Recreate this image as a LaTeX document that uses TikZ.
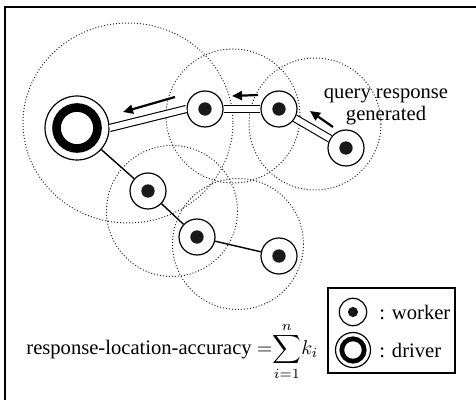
\documentclass[tikz,border=0pt]{standalone}
\usepackage{fontspec}
\setmainfont{Liberation Serif}
\usetikzlibrary{arrows.meta}

\tikzset{
  worker/.style={circle, draw, fill=white, line width=0.6pt, inner sep=0pt, minimum size=#1,
    path picture={\fill[black!90] (path picture bounding box.center) circle (0.185*#1);}},
  worker/.default=18pt,
  driver/.style={circle, draw, fill=white, line width=0.6pt, inner sep=0pt, minimum size=#1,
    path picture={\draw[line width=0.135*#1] (path picture bounding box.center) circle (0.32*#1);}},
  driver/.default=32pt,
  reach/.style={densely dotted, line width=0.5pt, black!85},
  relay/.style={double, double distance=3pt, line width=0.55pt},
  hop/.style={line width=0.7pt},
  flow/.style={line width=1.1pt, -{Triangle[length=5pt,width=4.5pt]}},
}

\begin{document}
\begin{tikzpicture}[x=0.5pt, y=-0.5pt, font=\fontsize{10.3}{11}\selectfont]
    \useasboundingbox (0,0) rectangle (476,400);
    \draw[line width=1pt] (5,7) rectangle (490,420);

    % transmission ranges
    \draw[reach] (128,123) ellipse [x radius=105, y radius=100];
    \draw[reach] (233,116) circle (67);
    \draw[reach] (315,124) circle (66);
    \draw[reach] (172,211) circle (65.5);
    \draw[reach] (238,244) circle (65.5);

    % driver and workers
    \node[driver] (drv) at (77,128) {};
    \node[worker] (w1) at (205,109) {};
    \node[worker] (w2) at (279,109) {};
    \node[worker] (w3) at (346,148) {};
    \node[worker] (w4) at (148,191) {};
    \node[worker] (w5) at (197,237) {};
    \node[worker] (w6) at (279,256) {};

    % response path back to the driver
    \draw[relay] (drv.east) -- (w1.west);
    \draw[relay] (w1.east) -- (w2.west);
    \draw[relay] (w2) -- (w3);
    \draw[flow] (175,97) -- (123,112);
    \draw[flow] (258,95) -- (232,96);
    \draw[flow] (333,127) -- (310,111);
    \node[align=center] (qr) at (386,107) {query response\\generated};

    % other links
    \draw[hop] (drv) -- (w4);
    \draw[hop] (w4) -- (w5);
    \draw[hop] (w5) -- (w6);

    \node[anchor=base west, inner sep=0pt] (acc) at (26,355)
        {response-location-accuracy ${=}\!\displaystyle\sum_{i=1}^{n}\!k_i$};

    % legend
    \draw[line width=0.6pt] (328,288) rectangle (455,373);
    \node[worker=13.7pt] (lw) at (353,312) {};
    \node[anchor=west, inner sep=0pt] (lwt) at (379,312) {: worker};
    \node[driver=17.5pt] (ld) at (353,350) {};
    \node[anchor=west, inner sep=0pt] (ldt) at (379,350) {: driver};
\end{tikzpicture}
\end{document}
